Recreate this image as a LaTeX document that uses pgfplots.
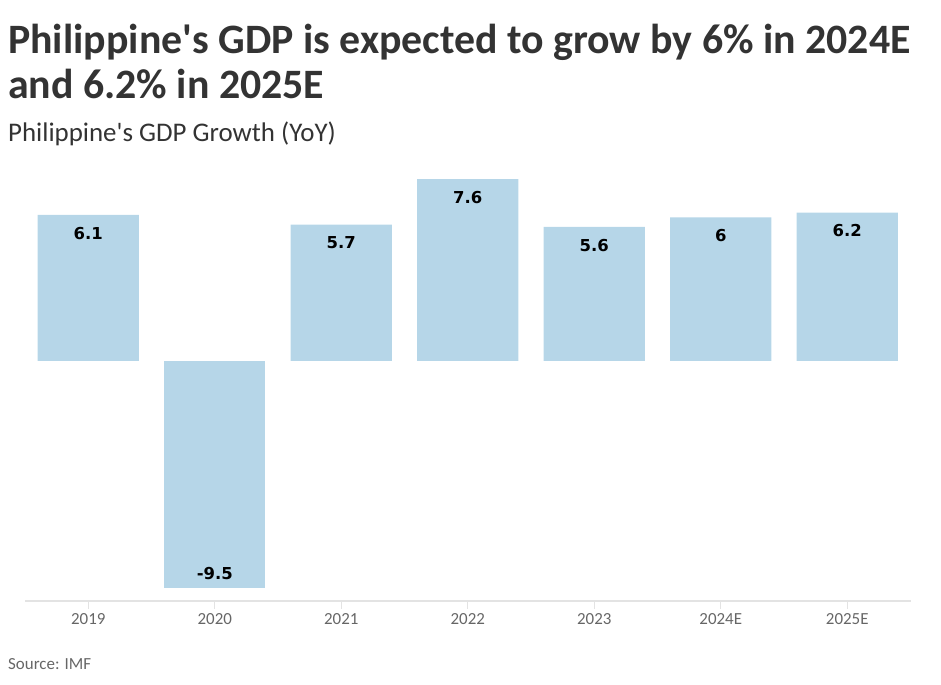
\documentclass[border=0pt]{standalone}
\usepackage{pgfplots}
\pgfplotsset{compat=1.18}
\usepackage{fontspec}
\setmainfont{Carlito}
\newfontfamily\lblfont{DejaVu Sans}
\definecolor{barblue}{HTML}{B6D6E8}
\definecolor{titlegray}{HTML}{333333}
\definecolor{tickgray}{HTML}{666666}
\definecolor{axisgray}{HTML}{E3E3E3}

\begin{document}
\begin{tikzpicture}[x=1bp,y=1bp]
\useasboundingbox (0,0) rectangle (941,685);
\node[anchor=base west, inner sep=0, text=titlegray, font=\fontsize{42}{46}\selectfont\bfseries] at (8,685-54) {Philippine\textquotesingle s GDP is expected to grow by 6\% in 2024E};
\node[anchor=base west, inner sep=0, text=titlegray, font=\fontsize{42}{46}\selectfont\bfseries] at (8,685-99) {and 6.2\% in 2025E};
\node[anchor=base west, inner sep=0, text=titlegray, font=\fontsize{27}{30}\selectfont] at (8,685-142) {Philippine\textquotesingle s GDP Growth (YoY)};
\node[anchor=base west, inner sep=0, text=tickgray, font=\fontsize{17}{19}\selectfont] at (8,685-670) {Source: IMF};

\begin{axis}[
    at={(25bp,84bp)}, anchor=south west,
    width=885.5bp, height=431.5bp, scale only axis,
    xmin=-0.5, xmax=6.5,
    ymin=-10.03, ymax=8,
    axis x line*=bottom, axis y line=none,
    x axis line style={axisgray, line width=1.5bp, -},
    ytick=\empty,
    xtick={0,...,6},
    xticklabels={2019,2020,2021,2022,2023,2024E,2025E},
    tick align=outside,
    major tick length=8bp,
    x tick style={axisgray, line width=1.2bp},
    xticklabel style={text=tickgray, font=\fontsize{17}{19}\selectfont, yshift=-1bp},
    ybar, bar width=0.8, bar shift=0pt,
    clip=false,
    /pgf/number format/assume math mode=true,
]
\addplot[fill=barblue, draw=none,
    nodes near coords,
    every node near coord/.style={anchor=north, inner sep=0, yshift=-12bp, text=black, font=\fontsize{16.5}{18}\selectfont\lblfont\bfseries}]
    coordinates {(0,6.1) (2,5.7) (3,7.6) (4,5.6) (5,6) (6,6.2)};
\addplot[fill=barblue, draw=none,
    nodes near coords,
    every node near coord/.style={anchor=south, inner sep=0, yshift=8bp, text=black, font=\fontsize{16.5}{18}\selectfont\lblfont\bfseries}]
    coordinates {(1,-9.5)};
\end{axis}
\end{tikzpicture}
\end{document}
